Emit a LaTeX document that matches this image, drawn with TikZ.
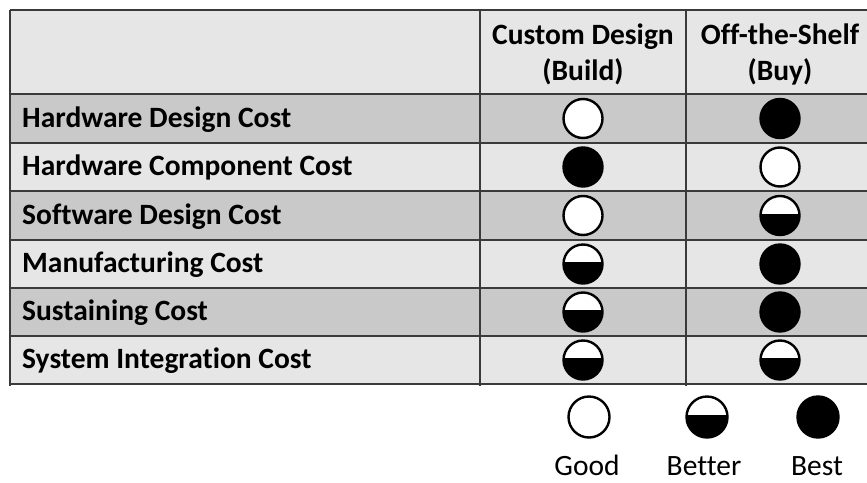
\documentclass[tikz,border=0pt]{standalone}
\usepackage{fontspec}
\setmainfont{Carlito}[Ligatures=NoCommon]
\definecolor{rowdark}{HTML}{C9C9C9}
\definecolor{rowlight}{HTML}{E6E6E6}
\definecolor{gridline}{HTML}{3A3A3A}
\tikzset{
  rowlabel/.style={anchor=base west, inner sep=0pt, font=\fontsize{29.5}{34}\selectfont\bfseries},
  headtext/.style={align=center, inner sep=0pt, font=\fontsize{29.5}{36}\selectfont\bfseries},
  legtext/.style={anchor=base, inner sep=0pt, font=\fontsize{29.5}{34}\selectfont},
  gridln/.style={draw=gridline, line width=1.6pt},
  ratemark/.style={circle, draw=black, line width=2.4pt, minimum size=39pt, inner sep=0pt},
  good/.style={ratemark, fill=white},
  best/.style={ratemark, fill=black},
  better/.style={ratemark, fill=white, path picture={
     \fill[black] ([yshift=2pt]path picture bounding box.west) rectangle (path picture bounding box.south east);}},
  legmark/.style={minimum size=41pt},
}
\begin{document}
\begin{tikzpicture}[x=1pt, y=-1pt]
\useasboundingbox (0,0) rectangle (867,482);
\clip (0,0) rectangle (867,482);
% backgrounds
\fill[rowlight] (10,10) rectangle (900,94);
\foreach \t/\b/\c in {94/143/rowdark, 143/191/rowlight, 191/240/rowdark, 240/288/rowlight, 288/336/rowdark, 336/384/rowlight}
  \fill[\c] (10,\t) rectangle (900,\b);
% grid lines
\foreach \y in {10,94,143,191,240,288,336,384}
  \draw[gridln] (10,\y) -- (900,\y);
\draw[gridln] (10,10) -- (10,386);
\draw[gridln] (480,10) -- (480,386);
\draw[gridln] (686,10) -- (686,386);
% header
\node[headtext] (h1) at (583,54) {Custom Design\\(Build)};
\node[headtext] (h2) at (780,54) {Off-the-Shelf\\(Buy)};
% row labels
\node[rowlabel] (r1) at (22,127) {Hardware Design Cost};
\node[rowlabel] (r2) at (22,175) {Hardware Component Cost};
\node[rowlabel] (r3) at (22,224) {Software Design Cost};
\node[rowlabel] (r4) at (22,272) {Manufacturing Cost};
\node[rowlabel] (r5) at (22,320) {Sustaining Cost};
\node[rowlabel] (r6) at (22,368) {System Integration Cost};
% marks
\node[good]   (c11) at (583,118.5) {};
\node[best]   (c12) at (780,118.5) {};
\node[best]   (c21) at (583,167) {};
\node[good]   (c22) at (780,167) {};
\node[good]   (c31) at (583,215.5) {};
\node[better] (c32) at (780,215.5) {};
\node[better] (c41) at (583,264) {};
\node[best]   (c42) at (780,264) {};
\node[better] (c51) at (583,312) {};
\node[best]   (c52) at (780,312) {};
\node[better] (c61) at (583,360) {};
\node[better] (c62) at (780,360) {};
% legend
\node[good, legmark]   (lg1) at (589,417) {};
\node[better, legmark] (lg2) at (707,417) {};
\node[best, legmark]   (lg3) at (818,417) {};
\node[legtext] (lt1) at (587,475) {Good};
\node[legtext] (lt2) at (704,475) {Better};
\node[legtext] (lt3) at (817,475) {Best};
\end{tikzpicture}
\end{document}
